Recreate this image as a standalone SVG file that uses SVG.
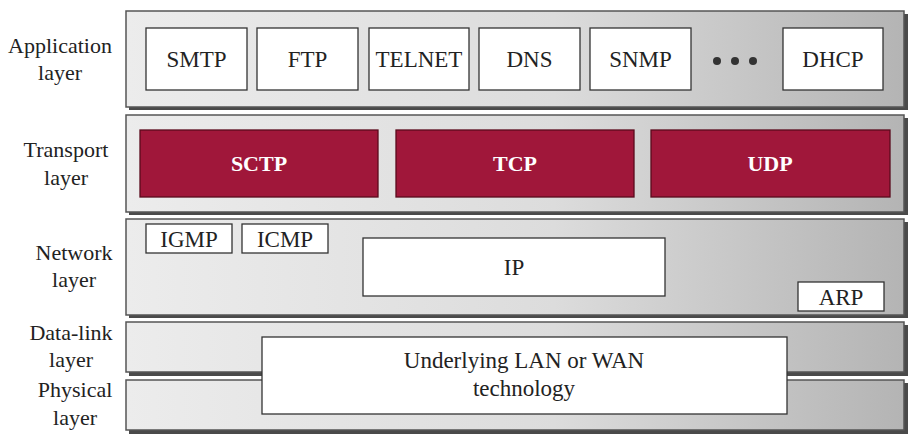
<svg xmlns="http://www.w3.org/2000/svg" width="918" height="442" viewBox="0 0 918 442">
<defs>
<linearGradient id="band" x1="0" y1="0" x2="1" y2="0">
<stop offset="0" stop-color="#ececec"/>
<stop offset="0.55" stop-color="#dcdcdc"/>
<stop offset="1" stop-color="#b4b4b4"/>
</linearGradient>
<style>
.shadow{fill:#4a4a4a}
.band{fill:url(#band);stroke:#555;stroke-width:1.5}
.box{fill:#fff;stroke:#333;stroke-width:1.3}
.red{fill:#a0173a;stroke:#5a0a1c;stroke-width:1.3}
.t{font-family:"Liberation Serif","Times New Roman",serif;font-size:23px;fill:#222;text-anchor:middle}
.lb{font-family:"Liberation Serif","Times New Roman",serif;font-size:22px;fill:#222;text-anchor:middle}
.w{font-family:"Liberation Serif","Times New Roman",serif;font-size:22px;font-weight:bold;fill:#fff;text-anchor:middle}
.dot{fill:#333}
</style>
</defs>
<rect width="918" height="442" fill="#fff"/>

<g id="layer-application">
<rect class="shadow" x="129" y="14" width="779" height="96"/>
<rect class="band" x="126" y="11" width="778" height="96"/>
<text class="lb" x="60" y="53">Application</text>
<text class="lb" x="60" y="80">layer</text>
</g>
<g id="layer-transport">
<rect class="shadow" x="129" y="118" width="779" height="97"/>
<rect class="band" x="126" y="115" width="778" height="97"/>
<text class="lb" x="66" y="157">Transport</text>
<text class="lb" x="66" y="185">layer</text>
</g>
<g id="layer-network">
<rect class="shadow" x="129" y="222" width="779" height="96"/>
<rect class="band" x="126" y="219" width="778" height="96"/>
<text class="lb" x="74" y="260">Network</text>
<text class="lb" x="74" y="287">layer</text>
</g>
<g id="layer-datalink">
<rect class="shadow" x="129" y="325" width="779" height="51"/>
<rect class="band" x="126" y="322" width="778" height="50"/>
<text class="lb" x="71" y="340">Data-link</text>
<text class="lb" x="71" y="367">layer</text>
</g>
<g id="layer-physical">
<rect class="shadow" x="129" y="383" width="779" height="51"/>
<rect class="band" x="126" y="380" width="778" height="50"/>
<text class="lb" x="75" y="397">Physical</text>
<text class="lb" x="75" y="425">layer</text>
</g>

<g id="smtp"><rect class="box" x="146" y="28" width="101" height="62"/><text class="t" x="196.5" y="67">SMTP</text></g>
<g id="ftp"><rect class="box" x="257" y="28" width="101" height="62"/><text class="t" x="307.5" y="67">FTP</text></g>
<g id="telnet"><rect class="box" x="369" y="28" width="100" height="62"/><text class="t" x="419" y="67">TELNET</text></g>
<g id="dns"><rect class="box" x="479" y="28" width="101" height="62"/><text class="t" x="529.5" y="67">DNS</text></g>
<g id="snmp"><rect class="box" x="590" y="28" width="101" height="62"/><text class="t" x="640.5" y="67">SNMP</text></g>
<g id="ellipsis"><circle class="dot" cx="717" cy="61" r="4"/><circle class="dot" cx="735" cy="61" r="4"/><circle class="dot" cx="753" cy="61" r="4"/></g>
<g id="dhcp"><rect class="box" x="783" y="28" width="100" height="62"/><text class="t" x="833" y="67">DHCP</text></g>

<g id="sctp"><rect class="red" x="140" y="130" width="238" height="67"/><text class="w" x="259" y="171">SCTP</text></g>
<g id="tcp"><rect class="red" x="396" y="130" width="238" height="67"/><text class="w" x="515" y="171">TCP</text></g>
<g id="udp"><rect class="red" x="651" y="130" width="239" height="67"/><text class="w" x="770" y="171">UDP</text></g>

<g id="igmp"><rect class="box" x="146" y="224" width="86" height="29"/><text class="t" x="189" y="247">IGMP</text></g>
<g id="icmp"><rect class="box" x="242" y="224" width="86" height="29"/><text class="t" x="285" y="247">ICMP</text></g>
<g id="ip"><rect class="box" x="363" y="238" width="302" height="58"/><text class="t" x="514" y="275">IP</text></g>
<g id="arp"><rect class="box" x="798" y="282" width="86" height="29"/><text class="t" x="841" y="305">ARP</text></g>

<g id="underlying"><rect class="box" x="262" y="337" width="525" height="77"/><text class="t" x="524" y="368">Underlying LAN or WAN</text><text class="t" x="524" y="396">technology</text></g>

<g id="connectors"></g>
</svg>
